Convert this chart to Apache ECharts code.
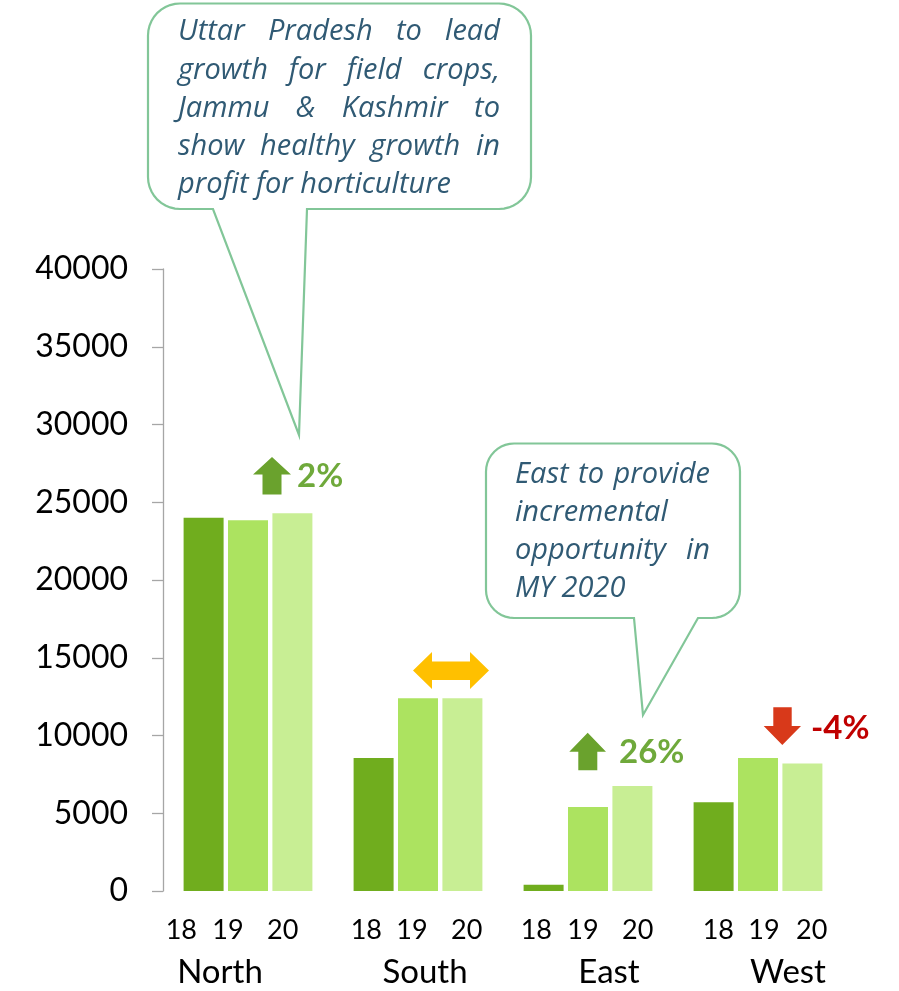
<!DOCTYPE html>
<html>
<head>
<meta charset="utf-8">
<style>
    html, body { margin: 0; padding: 0; background: #fff; }
    #chart { width: 899px; height: 991px; }
</style>
<script src="https://cdn.jsdelivr.net/npm/echarts@6/dist/echarts.min.js"></script>
</head>
<body>
<div id="chart"></div>
<script>
// data
var regions = ['North', 'South', 'East', 'West'];
var years = ['18', '19', '20'];
var my18 = [24000, 8550, 400, 5700];
var my19 = [23850, 12400, 5400, 8550];
var my20 = [24300, 12400, 6750, 8200];
var yTicks = { min: 0, max: 40000, step: 5000 };
var changes = ['2%', '', '26%', '-4%'];

// hand offsets of the labels (px, + is right)
var regionShift = [-28, 7, 21, 30];
var yearShift = [-10, -20, -22, 5, -6, -8, 5, -5, -7, 17, 6, -3];

var barColors = ['#70AD1E', '#ACE360', '#C8EE94'];
var noteColor = '#305A74';
var bubbleLine = '#82C698';
var FONT = 'Lato';
var NOTE_FONT = 'Open Sans';

function shifted(text, dx) {
    var pad = dx < 0 ? [0, -2 * dx, 0, 0] : [0, 0, 0, 2 * dx];
    return { value: text, textStyle: { padding: pad } };
}

var regionData = regions.map(function (r, i) { return shifted(r, regionShift[i]); });
var yearData = [];
regions.forEach(function (r, i) {
    years.forEach(function (y, j) {
        yearData.push(shifted(r + y, yearShift[i * 3 + j]));
    });
});

// speech bubble outline as polygon
function bubble(x0, y0, x1, y1, r, tailL, tailR, tipX, tipY) {
    var pts = [];
    function arc(cx, cy, a0, a1) {
        for (var k = 0; k <= 10; k++) {
            var a = a0 + (a1 - a0) * k / 10;
            pts.push([cx + r * Math.cos(a), cy + r * Math.sin(a)]);
        }
    }
    arc(x0 + r, y0 + r, Math.PI, Math.PI * 1.5);
    arc(x1 - r, y0 + r, Math.PI * 1.5, Math.PI * 2);
    arc(x1 - r, y1 - r, 0, Math.PI * 0.5);
    pts.push([tailR, y1], [tipX, tipY], [tailL, y1]);
    arc(x0 + r, y1 - r, Math.PI * 0.5, Math.PI);
    return {
        type: 'polygon',
        shape: { points: pts },
        style: { fill: '#fff', stroke: bubbleLine, lineWidth: 2.2 }
    };
}

// justified italic note text
var ctx = document.createElement('canvas').getContext('2d');
var noteSize = 29;
ctx.font = 'italic ' + noteSize + 'px "' + NOTE_FONT + '"';
function noteLines(lines, left, right, ys) {
    var els = [];
    lines.forEach(function (ln, i) {
        var words = ln.text.split(' ');
        var widths = words.map(function (w) { return ctx.measureText(w).width; });
        var total = widths.reduce(function (a, b) { return a + b; }, 0);
        var gap = ln.justify && words.length > 1 ? (right - left - total) / (words.length - 1) : ctx.measureText(' ').width;
        var x = left;
        words.forEach(function (w, k) {
            els.push({
                type: 'text', x: x, y: ys[i],
                style: { text: w, fill: noteColor, fontSize: noteSize, fontStyle: 'italic', fontFamily: NOTE_FONT, verticalAlign: 'middle', align: 'left' }
            });
            x += widths[k] + gap;
        });
    });
    return els;
}

function arrow(points, color) {
    return { type: 'polygon', shape: { points: points }, style: { fill: color } };
}
function bigText(text, x, y, color) {
    return {
        type: 'text', x: x, y: y,
        style: { text: text, fill: color, fontSize: 33, fontWeight: 'bold', fontFamily: FONT, verticalAlign: 'middle', align: 'left' }
    };
}

var graphics = [];
graphics.push(bubble(148, 3.5, 531, 209, 32, 213, 307, 299, 435));
graphics = graphics.concat(noteLines([
    { text: 'Uttar Pradesh to lead', justify: true },
    { text: 'growth for field crops,', justify: true },
    { text: 'Jammu & Kashmir to', justify: true },
    { text: 'show healthy growth in', justify: true },
    { text: 'profit for horticulture', justify: false }
], 178, 500, [32, 71, 109, 147, 185]));
graphics.push(bubble(486, 443.5, 740, 618, 28, 634, 698, 643, 715));
graphics = graphics.concat(noteLines([
    { text: 'East to provide', justify: true },
    { text: 'incremental', justify: false },
    { text: 'opportunity in', justify: true },
    { text: 'MY 2020', justify: false }
], 515, 710, [475, 513, 551, 589]));

graphics.push(arrow([[272, 457], [291, 474.5], [281.5, 474.5], [281.5, 494.5], [262.5, 494.5], [262.5, 474.5], [253, 474.5]], '#6AA22D'));
graphics.push(bigText(changes[0], 297, 476, '#6FA93B'));
graphics.push(arrow([[413, 670.5], [432, 652], [432, 661.5], [470, 661.5], [470, 652], [489, 670.5], [470, 689], [470, 680], [432, 680], [432, 689]], '#FFC000'));
graphics.push(arrow([[587.7, 732.7], [606, 751.7], [597.3, 751.7], [597.3, 770.3], [578.3, 770.3], [578.3, 751.7], [569.3, 751.7]], '#6AA22D'));
graphics.push(bigText(changes[2], 619, 752, '#6FA93B'));
graphics.push(arrow([[773.3, 707.3], [791.7, 707.3], [791.7, 726], [801, 726], [782.3, 745], [763.7, 726], [773.3, 726]], '#D8391A'));
graphics.push(bigText(changes[3], 811, 728, '#C00000'));

var chart = echarts.init(document.getElementById('chart'));
var option = {
    animation: false,
    grid: { left: 163, right: 56, top: 269, bottom: 100 },
    xAxis: [
        {
            type: 'category',
            data: regionData,
            axisLine: { show: false },
            axisTick: { show: false },
            axisLabel: { interval: 0, margin: 63, fontSize: 33, lineHeight: 36, color: '#000', fontFamily: FONT }
        },
        {
            type: 'category',
            position: 'bottom',
            data: yearData,
            axisLine: { show: false },
            axisTick: { show: false },
            axisLabel: {
                interval: 0, margin: 24, fontSize: 27, lineHeight: 30, color: '#000', fontFamily: FONT,
                formatter: function (v) { return v.slice(-2); }
            }
        }
    ],
    yAxis: {
        type: 'value',
        min: yTicks.min,
        max: yTicks.max,
        interval: yTicks.step,
        splitLine: { show: false },
        axisLine: { show: true, lineStyle: { color: '#A6A6A6', width: 1.3 } },
        axisTick: { show: true, length: 11, lineStyle: { color: '#A6A6A6', width: 1.3 } },
        axisLabel: {
            margin: 35, fontSize: 32, color: '#000', fontFamily: FONT,
            formatter: function (v) { return String(v); }
        }
    },
    series: [
        { name: '18', type: 'bar', data: my18, barWidth: 40, barGap: '11%', itemStyle: { color: barColors[0] } },
        { name: '19', type: 'bar', data: my19, barWidth: 40, barGap: '11%', itemStyle: { color: barColors[1] } },
        { name: '20', type: 'bar', data: my20, barWidth: 40, barGap: '11%', itemStyle: { color: barColors[2] } }
    ],
    graphic: graphics
};
chart.setOption(option);
</script>
</body>
</html>
